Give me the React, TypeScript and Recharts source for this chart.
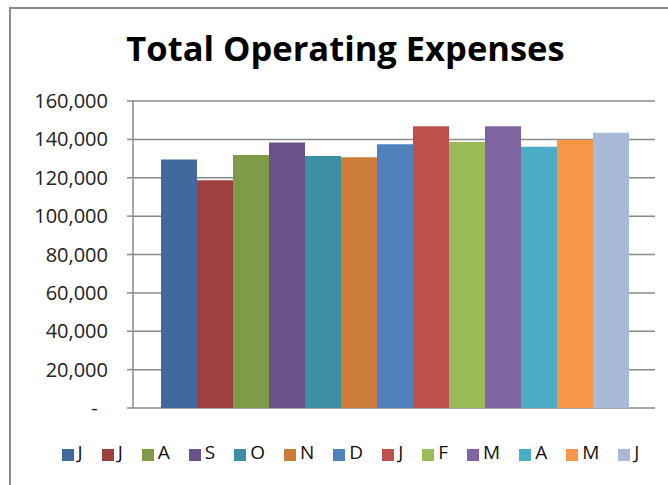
import React from "react";
import { Bar, BarChart, CartesianGrid, Legend, XAxis, YAxis } from "recharts";

const MONTHS = ["J", "J", "A", "S", "O", "N", "D", "J", "F", "M", "A", "M", "J"];
const EXPENSES = [129500, 118700, 131800, 138400, 131300, 130700, 137400, 146900, 138600, 146900, 136100, 139800, 143400];
const COLORS = [
  "#3f6a9b", "#9e413e", "#7f9a48", "#6a5188", "#3d8da3", "#cc7b38",
  "#4f81bd", "#c0504d", "#9bbb59", "#8064a2", "#4bacc6", "#f79646", "#a9b9d8",
];
const Y_TICKS = [0, 20000, 40000, 60000, 80000, 100000, 120000, 140000, 160000];

const FONT = "'Open Sans', 'Liberation Sans', sans-serif";
const GRID = "#8a8a8a";

// one category, one series per month (Excel-style)
const row: Record<string, number | string> = { name: "Total" };
EXPENSES.forEach((v, i) => {
  row[`m${i}`] = v;
});
const data = [row];

const fmt = (v: number) => (v === 0 ? "-\u00a0\u00a0" : v.toLocaleString("en-US"));

export default function App() {
  return (
    <div style={{ position: "absolute", left: 0, top: 0, width: 668, height: 485, overflow: "hidden", background: "#fff", fontFamily: FONT }}>
      <style>{`.recharts-legend-item{margin-right:19px !important}`}</style>
      <div
        style={{
          position: "absolute",
          left: 9,
          top: 7,
          width: 700,
          height: 520,
          borderLeft: `2px solid ${GRID}`,
          borderTop: `2px solid ${GRID}`,
        }}
      />
      <div
        style={{
          position: "absolute",
          left: 0,
          width: 691,
          top: 25,
          textAlign: "center",
          fontSize: 34.5,
          fontWeight: 700,
          color: "#000",
          lineHeight: "46px",
        }}
      >
        Total Operating Expenses
      </div>
      <div style={{ position: "absolute", left: 0, top: 0 }}>
        <BarChart
          width={668}
          height={485}
          data={data}
          margin={{ top: 101, right: 13, left: 0, bottom: 77 }}
          barCategoryGap={28}
          barGap={0}
        >
          <CartesianGrid vertical={false} stroke={GRID} strokeWidth={1.5} />
          <XAxis dataKey="name" hide />
          <YAxis
            width={133}
            domain={[0, 160000]}
            ticks={Y_TICKS}
            tickFormatter={fmt}
            tick={{ fill: "#222", fontSize: 20, fontFamily: FONT }}
            tickSize={6}
            tickMargin={19}
            axisLine={{ stroke: GRID, strokeWidth: 1.5 }}
            tickLine={{ stroke: GRID, strokeWidth: 1.5 }}
            interval={0}
          />
          <Legend
            layout="horizontal"
            verticalAlign="middle"
            align="center"
            iconType="square"
            iconSize={12}
            itemSorter={(item: any) => Number(String(item.dataKey).slice(1))}
            wrapperStyle={{ top: 439, left: 30, width: 660, fontFamily: FONT }}
            formatter={(v) => <span style={{ color: "#111", fontSize: 19 }}>{v}</span>}
          />
          {EXPENSES.map((_, i) => (
            <Bar
              key={i}
              dataKey={`m${i}`}
              name={MONTHS[i]}
              fill={COLORS[i]}
              legendType="square"
              isAnimationActive={false}
            />
          ))}
        </BarChart>
      </div>
    </div>
  );
}
